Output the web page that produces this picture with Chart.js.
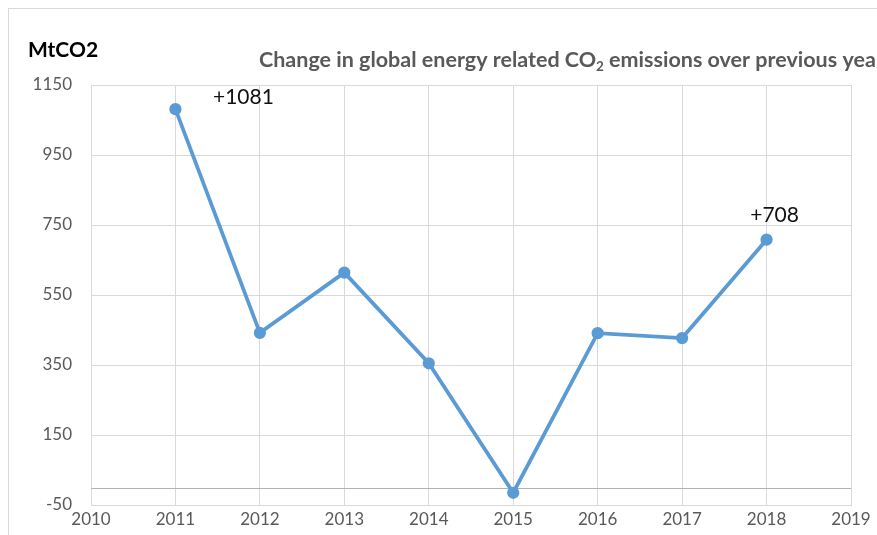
<!DOCTYPE html>
<html>
<head>
<meta charset="utf-8">
<script src="https://cdn.jsdelivr.net/npm/chart.js@4/dist/chart.umd.min.js"></script>
<style>
  html, body { margin: 0; padding: 0; background: #fff; }
  #wrap { position: relative; width: 877px; height: 535px; overflow: hidden; }
  #frame { position: absolute; left: 8px; top: 8px; width: 1000px; height: 700px; border: 1px solid #d9d9d9; }
  #chart { position: absolute; left: 0; top: 0; }
</style>
</head>
<body>
<div id="wrap">
  <div id="frame"></div>
  <canvas id="chart" width="877" height="535"></canvas>
</div>
<script>
const years = [2011, 2012, 2013, 2014, 2015, 2016, 2017, 2018];
const changes = [1081, 442, 614, 355, -15, 441, 427, 708];
const labelledYears = [2011, 2018];
const yMin = -50, yMax = 1150, yStep = 200;
const xMin = 2010, xMax = 2019;

const FONT = 'Lato, "Open Sans", sans-serif';
const GREY = '#595959';

// unit label + title with subscripted CO2
const headerPlugin = {
    id: 'header',
    afterDraw(chart) {
        const ctx = chart.ctx;
        ctx.save();
        ctx.textBaseline = 'alphabetic';
        ctx.textAlign = 'left';
        ctx.fillStyle = '#000';
        ctx.font = 'bold 21px ' + FONT;
        ctx.fillText('MtCO2', 28, 57);

        ctx.fillStyle = GREY;
        let x = 259;
        const parts = [['Change in global energy related CO', 21.5, 0], ['2', 13.5, 4], [' emissions over previous year', 21.5, 0]];
        parts.forEach(([t, size, drop]) => {
            ctx.font = 'bold ' + size + 'px ' + FONT;
            ctx.fillText(t, x, 67 + drop);
            x += ctx.measureText(t).width;
        });
        ctx.restore();
    }
};

// zero line and value labels for the first and last years
const marksPlugin = {
    id: 'marks',
    beforeDatasetsDraw(chart) {
        const { ctx, chartArea, scales } = chart;
        const y0 = Math.round(scales.y.getPixelForValue(0)) + 0.5;
        ctx.save();
        ctx.strokeStyle = '#b3b3b3';
        ctx.lineWidth = 1;
        ctx.beginPath();
        ctx.moveTo(chartArea.left, y0);
        ctx.lineTo(chartArea.right, y0);
        ctx.stroke();
        ctx.restore();
    },
    afterDatasetsDraw(chart) {
        const { ctx, scales } = chart;
        ctx.save();
        ctx.fillStyle = '#111';
        ctx.font = '21px ' + FONT;
        ctx.textAlign = 'center';
        ctx.textBaseline = 'middle';
        labelledYears.forEach((yr, n) => {
            const v = changes[years.indexOf(yr)];
            const px = scales.x.getPixelForValue(yr);
            const py = scales.y.getPixelForValue(v);
            const txt = (v > 0 ? '+' : '') + v;
            if (n === 0) ctx.fillText(txt, px + 68, py - 12);
            else ctx.fillText(txt, px + 8, py - 24);
        });
        ctx.restore();
    }
};

new Chart(document.getElementById('chart'), {
    type: 'line',
    data: {
        datasets: [{
            data: years.map((yr, i) => ({ x: yr, y: changes[i] })),
            borderColor: '#5b9bd5',
            backgroundColor: '#5b9bd5',
            borderWidth: 3.75,
            pointRadius: 4.25,
            pointHoverRadius: 4.25,
            tension: 0
        }]
    },
    options: {
        responsive: false,
        animation: false,
        layout: { padding: { left: 0, top: 85, right: 26, bottom: 0 } },
        plugins: { legend: { display: false }, tooltip: { enabled: false } },
        scales: {
            x: {
                type: 'linear',
                min: xMin, max: xMax,
                afterFit: (s) => { s.height = 30; },
                ticks: { stepSize: 1, color: GREY, font: { family: FONT, size: 17 }, padding: 4, callback: (v) => String(v) },
                grid: { color: '#d9d9d9', drawTicks: false },
                border: { color: '#d9d9d9' }
            },
            y: {
                min: yMin, max: yMax,
                afterFit: (s) => { s.width = 91; },
                ticks: { stepSize: yStep, color: GREY, font: { family: FONT, size: 17 }, padding: 19, callback: (v) => String(v) },
                grid: { color: '#d9d9d9', drawTicks: false },
                border: { color: '#d9d9d9' }
            }
        }
    },
    plugins: [headerPlugin, marksPlugin]
});
</script>
</body>
</html>
